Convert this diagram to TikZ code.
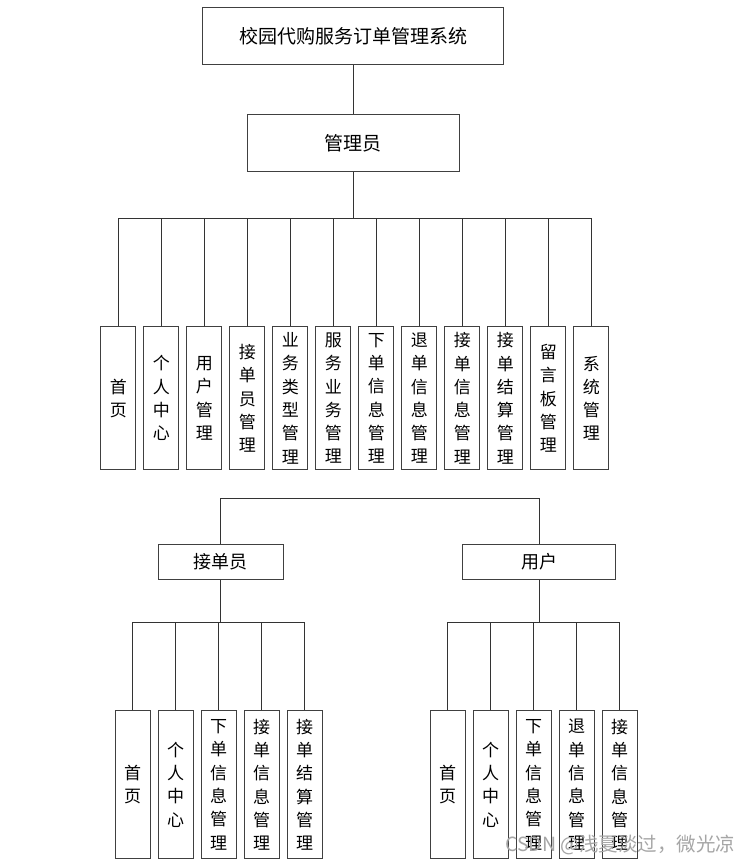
\documentclass[tikz,border=0pt]{standalone}
\usepackage{fontspec}
\setmainfont{Noto Sans CJK SC}
\begin{document}
\begin{tikzpicture}[x=1pt,y=-1pt,
  box/.style={draw=black!75,line width=1.1pt,fill=white,inner sep=0pt,align=center},
  bigbox/.style={box,font=\fontsize{19}{19}\selectfont},
  midbox/.style={box,font=\fontsize{18}{18}\selectfont},
  leaf/.style={box,minimum width=35pt,font=\fontsize{17}{23.3}\selectfont},
  upleaf/.style={leaf,minimum height=143pt},
  lowleaf/.style={leaf,minimum height=148pt},
  conn/.style={draw=black!80,line width=1pt},
  wmark/.style={font=\fontsize{19.5}{19.5}\selectfont,text=black!35,anchor=west,inner sep=0pt}]
\useasboundingbox[fill=white] (0,0) rectangle (754,863);

\node[bigbox,minimum width=301pt,minimum height=57pt] (top) at (353.3,36) {校园代购服务订单管理系统};
\node[bigbox,minimum width=212pt,minimum height=57pt] (admin) at (353.3,143.3) {管理员};

\foreach \i/\t in {0/首\\页,1/个\\人\\中\\心,2/用\\户\\管\\理,3/接\\单\\员\\管\\理,4/业\\务\\类\\型\\管\\理,5/服\\务\\业\\务\\管\\理,6/下\\单\\信\\息\\管\\理,7/退\\单\\信\\息\\管\\理,8/接\\单\\信\\息\\管\\理,9/接\\单\\结\\算\\管\\理,10/留\\言\\板\\管\\理,11/系\\统\\管\\理}
  \node[upleaf] (a\i) at ({118.3+43*\i},398.3) {\t};

\node[midbox,minimum width=125pt,minimum height=35pt] (jd) at (220.8,561.7) {接单员};
\node[midbox,minimum width=153.4pt,minimum height=35pt] (yh) at (539,561.7) {用户};

\foreach \i/\t in {0/首\\页,1/个\\人\\中\\心,2/下\\单\\信\\息\\管\\理,3/接\\单\\信\\息\\管\\理,4/接\\单\\结\\算\\管\\理}
  \node[lowleaf] (b\i) at ({132.7+43*\i},784.7) {\t};
\foreach \i/\t in {0/首\\页,1/个\\人\\中\\心,2/下\\单\\信\\息\\管\\理,3/退\\单\\信\\息\\管\\理,4/接\\单\\信\\息\\管\\理}
  \node[lowleaf] (c\i) at ({447.7+43*\i},784.7) {\t};

\coordinate (bus1) at (353.3,218.3);
\coordinate (bus2) at (380,498.3);
\coordinate (bus3) at (220.8,622.5);
\coordinate (bus4) at (539,622.5);

\draw[conn] (top.south) -- (admin.north);
\draw[conn] (admin.south) -- (bus1);
\draw[conn] (a0.north) |- (bus1) -| (a11.north);
\foreach \i in {1,...,10} \draw[conn] (a\i.north) -- (a\i.north |- bus1);

\draw[conn] (jd.north) |- (bus2) -| (yh.north);

\draw[conn] (jd.south) -- (bus3);
\draw[conn] (b0.north) |- (bus3) -| (b4.north);
\foreach \i in {1,2,3} \draw[conn] (b\i.north) -- (b\i.north |- bus3);

\draw[conn] (yh.south) -- (bus4);
\draw[conn] (c0.north) |- (bus4) -| (c4.north);
\foreach \i in {1,2,3} \draw[conn] (c\i.north) -- (c\i.north |- bus4);

\node[wmark] (wm) at (505,845) {CSDN @浅夏淡过，微光凉};
\end{tikzpicture}
\end{document}
